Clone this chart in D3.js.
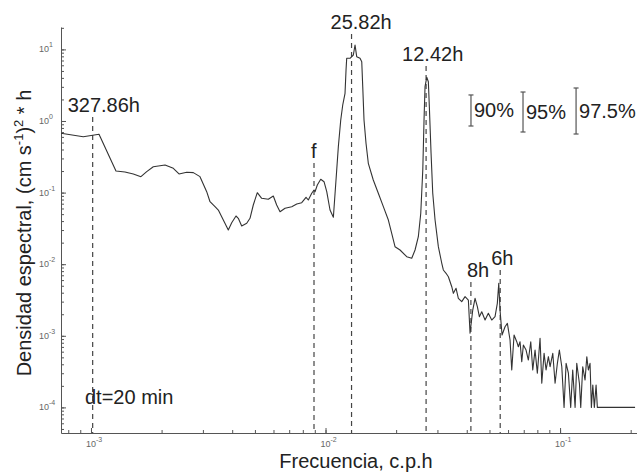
<!DOCTYPE html>
<html>
<head>
<meta charset="utf-8">
<script src="https://cdn.jsdelivr.net/npm/d3@7"></script>
<style>
  html, body { margin: 0; padding: 0; background: #fff; }
  svg { display: block; font-family: "Liberation Sans", Arial, sans-serif; }
</style>
</head>
<body>
<svg id="chart" width="637" height="474"></svg>
<script>
// Power spectral density of the current record (sampling interval dt = 20 min).
// Frequency is expressed in cycles per sample.
const dtHours = 20 / 60;

const freq = [
  0.000745, 0.000927, 0.001082, 0.001278, 0.001396, 0.001515, 0.001633, 0.001728, 0.001844, 0.002069,
  0.002244, 0.002373, 0.002559, 0.002731, 0.002916, 0.003114, 0.003217, 0.003379, 0.003491, 0.003666,
  0.003850, 0.003981, 0.004152, 0.004247, 0.004391, 0.004613, 0.004764, 0.004920, 0.005118, 0.005343,
  0.005702, 0.005989, 0.00619, 0.006397, 0.00672, 0.007177, 0.007538, 0.007916, 0.008257, 0.008446,
  0.008733, 0.008933, 0.00902, 0.009226, 0.009539, 0.009854, 0.01012, 0.01045, 0.01080, 0.01116,
  0.01134, 0.01161, 0.01184, 0.01211, 0.01223, 0.01231, 0.01272, 0.01314, 0.01336, 0.01358,
  0.01403, 0.01427, 0.01441, 0.01459, 0.01488, 0.01522, 0.01598, 0.01679, 0.01764, 0.01853,
  0.01915, 0.01978, 0.02078, 0.02219, 0.02331, 0.02408, 0.02487, 0.02547, 0.02598, 0.0263,
  0.02656, 0.02701, 0.02744, 0.02771, 0.02818, 0.02865, 0.02931, 0.03027, 0.03129, 0.03179,
  0.03265, 0.03340, 0.03453, 0.03508, 0.03602, 0.03684, 0.03808, 0.03935, 0.04064, 0.04132,
  0.04243, 0.04340, 0.04439, 0.04528, 0.04635, 0.04788, 0.04945, 0.05112, 0.05281, 0.05401,
  0.05477, 0.05546, 0.05657, 0.05826, 0.05960, 0.06119, 0.06223, 0.06365, 0.06535, 0.06639,
  0.06750, 0.06865, 0.06974, 0.07161, 0.07324, 0.07499, 0.07648, 0.07822, 0.08000, 0.08215,
  0.08356, 0.08547, 0.08716, 0.08915, 0.09066, 0.09309, 0.09521, 0.09739, 0.09931, 0.1017,
  0.1040, 0.1061, 0.1085, 0.1110, 0.1132, 0.1159, 0.1178, 0.1209, 0.1225, 0.1249,
  0.1278, 0.1300, 0.1320, 0.1342, 0.1360, 0.1379, 0.1400, 0.1424, 0.1442, 0.2088
];

const density = [
  0.673, 0.604, 0.652, 0.200, 0.194, 0.182, 0.167, 0.196, 0.230, 0.243,
  0.218, 0.182, 0.192, 0.190, 0.167, 0.103, 0.0746, 0.0636, 0.0571, 0.0414,
  0.0301, 0.0380, 0.0471, 0.0438, 0.0342, 0.0373, 0.0438, 0.0671, 0.0997, 0.0832,
  0.0806, 0.0897, 0.0671, 0.0541, 0.0604, 0.0636, 0.0693, 0.0723, 0.0860, 0.0788,
  0.0978, 0.1087, 0.1029, 0.1277, 0.1534, 0.1420, 0.1029, 0.0571, 0.0452, 0.2068,
  0.4376, 1.033, 1.673, 2.437, 5.156, 7.509, 7.51, 8.35, 11.52, 7.91,
  7.51, 6.734, 3.013, 1.033, 0.488, 0.2566, 0.150, 0.0978, 0.0636, 0.0414,
  0.0270, 0.01756, 0.01579, 0.01273, 0.01209, 0.01579, 0.02422, 0.0514, 0.2068, 1.033,
  3.013, 4.076, 3.539, 1.584, 0.354, 0.0978, 0.0414, 0.01756, 0.01039, 0.0083,
  0.00746, 0.00669, 0.00485, 0.00392, 0.00461, 0.00334, 0.00300, 0.00352, 0.00316, 0.001084,
  0.00229, 0.00334, 0.00255, 0.00185, 0.00217, 0.00166, 0.00206, 0.00166, 0.00185, 0.00284,
  0.00541, 0.00229, 0.001026, 0.00134, 0.00149, 0.000874, 0.000333, 0.001026, 0.000827, 0.000704,
  0.000827, 0.000435, 0.000744, 0.000633, 0.000459, 0.000827, 0.000333, 0.000633, 0.000300, 0.000923,
  0.000217, 0.000570, 0.000333, 0.000511, 0.000370, 0.000570, 0.000217, 0.000413, 0.000633, 0.000370,
  0.0001, 0.000413, 0.000300, 0.0001, 0.000333, 0.0001, 0.000413, 0.000217, 0.0001, 0.000370,
  0.000241, 0.000511, 0.000333, 0.000413, 0.0001, 0.000206, 0.0001, 0.000206, 0.0001, 0.0001
];

// Marked periods (hours) and the inertial frequency
const peakLabels  = ["327.86h", "25.82h", "12.42h", "8h", "6h"];
const peakPeriods = [327.86, 25.82, 12.42, 8, 6];
const inertialLabel = "f";
const inertialFreq  = 0.00893;

// Confidence intervals (multiplicative range around a unit level)
const confLabels = ["90%", "95%", "97.5%"];
const confFreq   = [0.0417, 0.0695, 0.117];
const confLow    = [0.851, 0.702, 0.658];
const confHigh   = [2.31, 2.54, 2.89];

const xMajorTicks = [1e-3, 1e-2, 1e-1];
const yMajorTicks = [1e-4, 1e-3, 1e-2, 1e-1, 1e0, 1e1];

const xTitle = "Frecuencia, c.p.h";
const noteText = "dt=20 min";

// ---------------------------------------------------------------
const svg = d3.select("#chart");
const axisColor = "#555";
const textColor = "#222";

const x = d3.scaleLog().domain([7.45e-4, 0.2128]).range([61, 637]);
const y = d3.scaleLog().domain([4.39e-5, 20.55]).range([433, 27]);
const [yBottom, yTop] = y.range();

function minorTicks(scale) {
  const [lo, hi] = scale.domain();
  const out = [];
  for (let e = Math.floor(Math.log10(lo)); e <= Math.ceil(Math.log10(hi)); e++) {
    for (let k = 1; k <= 9; k++) {
      const v = k * Math.pow(10, e);
      if (v >= lo && v <= hi) out.push(v);
    }
  }
  return out;
}

// Bottom axis
const gx = svg.append("g").attr("transform", `translate(0,${yBottom})`);
gx.call(d3.axisBottom(x).tickValues(minorTicks(x)).tickSizeInner(-3).tickSizeOuter(0).tickFormat(""));
gx.append("g").call(d3.axisBottom(x).tickValues(xMajorTicks).tickSizeInner(-5).tickSizeOuter(0).tickFormat(""))
  .select(".domain").remove();

// Left axis
const gy = svg.append("g").attr("transform", `translate(${x.range()[0]},0)`);
gy.call(d3.axisLeft(y).tickValues(minorTicks(y)).tickSizeInner(-3).tickSizeOuter(0).tickFormat(""));
gy.append("g").call(d3.axisLeft(y).tickValues(yMajorTicks).tickSizeInner(-5).tickSizeOuter(0).tickFormat(""))
  .select(".domain").remove();

svg.selectAll(".domain, .tick line").attr("stroke", axisColor).attr("stroke-width", 1);

// Power-of-ten tick labels
function powLabel(sel, v) {
  const e = Math.round(Math.log10(v));
  sel.append("tspan").text("10");
  sel.append("tspan").attr("dy", -5).attr("font-size", 7).text(e);
}
xMajorTicks.forEach(v => {
  const t = svg.append("text").attr("x", x(v) - 5).attr("y", yBottom + 14)
    .attr("font-size", 9).attr("fill", "#666");
  powLabel(t, v);
});
yMajorTicks.forEach(v => {
  const t = svg.append("text").attr("x", 39).attr("y", y(v) + 3)
    .attr("font-size", 9).attr("fill", "#666");
  powLabel(t, v);
});

// Axis titles
svg.append("text").attr("x", 356).attr("y", 468).attr("text-anchor", "middle")
  .attr("font-size", 20).attr("fill", textColor).text(xTitle);

const yt = svg.append("text")
  .attr("transform", `translate(31,${(yTop + yBottom) / 2 + 3}) rotate(-90)`)
  .attr("text-anchor", "middle").attr("font-size", 20).attr("fill", textColor);
yt.append("tspan").text("Densidad espectral, (cm s");
yt.append("tspan").attr("dy", -8).attr("font-size", 13).text("-1");
yt.append("tspan").attr("dy", 8).text(")");
yt.append("tspan").attr("dy", -8).attr("font-size", 13).text("2");
yt.append("tspan").attr("dy", 8).text(" * h");

// Dashed reference lines and their labels
const marks = peakPeriods.map((p, i) => ({ label: peakLabels[i], f: dtHours / p }));
marks.push({ label: inertialLabel, f: inertialFreq });
// label placement: horizontal shift from the line and text baseline
const placement = [
  { dx: -25, base: 112 },
  { dx: -21, base: 29 },
  { dx: -24, base: 61 },
  { dx: -4,  base: 277 },
  { dx: -9,  base: 265 },
  { dx: -3,  base: 158 }
];

marks.forEach((m, i) => {
  const p = placement[i];
  svg.append("line")
    .attr("x1", x(m.f)).attr("x2", x(m.f))
    .attr("y1", p.base + 5).attr("y2", yBottom)
    .attr("stroke", "#444").attr("stroke-width", 1.2)
    .attr("stroke-dasharray", "5,4");
  svg.append("text").attr("x", x(m.f) + p.dx).attr("y", p.base)
    .attr("font-size", 20).attr("fill", textColor).text(m.label);
});

// Spectrum
const series = freq.map((f, i) => ({ f, s: density[i] }));
svg.append("path").datum(series)
  .attr("fill", "none").attr("stroke", "#333").attr("stroke-width", 1.1)
  .attr("stroke-linejoin", "round")
  .attr("d", d3.line().x(d => x(d.f)).y(d => y(d.s)));

// Confidence interval bars
confLabels.forEach((lab, i) => {
  const cx = x(confFreq[i]);
  const y0 = y(confHigh[i]), y1 = y(confLow[i]);
  const g = svg.append("g").attr("stroke", "#555").attr("stroke-width", 1.2);
  g.append("line").attr("x1", cx).attr("x2", cx).attr("y1", y0).attr("y2", y1);
  g.append("line").attr("x1", cx - 2.5).attr("x2", cx + 2.5).attr("y1", y0).attr("y2", y0);
  g.append("line").attr("x1", cx - 2.5).attr("x2", cx + 2.5).attr("y1", y1).attr("y2", y1);
  svg.append("text").attr("x", cx + 3).attr("y", (y0 + y1) / 2 + 7)
    .attr("font-size", 20).attr("fill", textColor).text(lab);
});

// Sampling note
svg.append("text").attr("x", 85).attr("y", 404)
  .attr("font-size", 20).attr("fill", textColor).text(noteText);
</script>
</body>
</html>
